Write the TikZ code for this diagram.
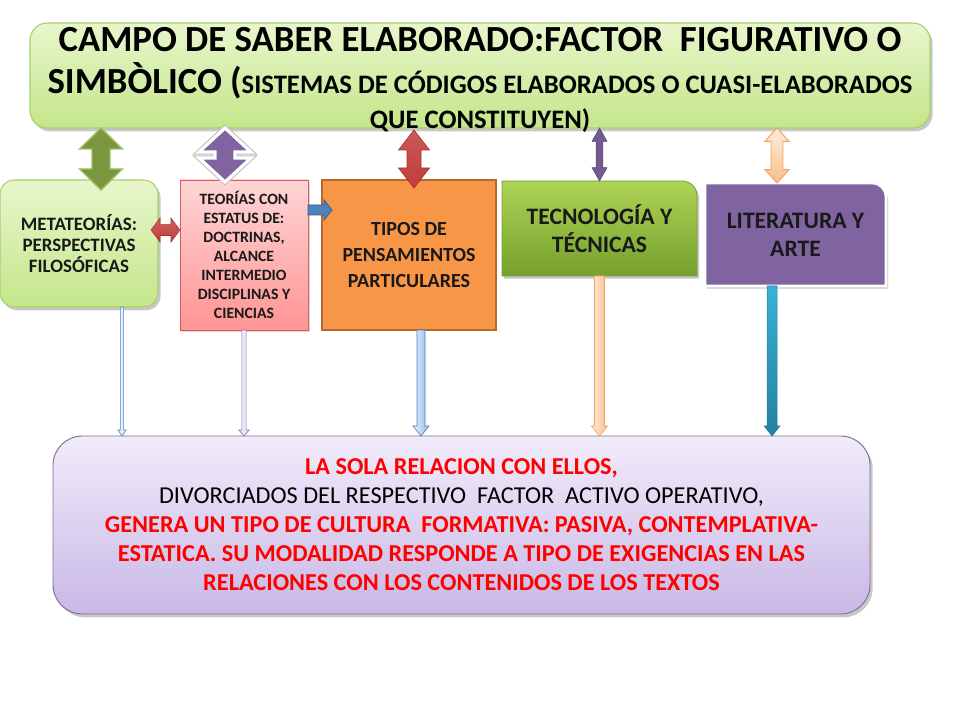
\documentclass[tikz,border=0pt]{standalone}
\usepackage{fontspec}
\setmainfont{Carlito}
\usetikzlibrary{calc,shadows,backgrounds}

\definecolor{topA}{RGB}{232,246,204}
\definecolor{topB}{RGB}{196,230,138}
\definecolor{topC}{RGB}{168,208,108}
\definecolor{teoA}{RGB}{255,214,214}
\definecolor{teoB}{RGB}{255,148,148}
\definecolor{teoC}{RGB}{214,92,92}
\definecolor{tipF}{RGB}{247,150,70}
\definecolor{tipC}{RGB}{182,104,46}
\definecolor{tecA}{RGB}{174,212,86}
\definecolor{tecB}{RGB}{118,160,44}
\definecolor{tecC}{RGB}{122,154,58}
\definecolor{litF}{RGB}{128,100,162}
\definecolor{botA}{RGB}{241,236,250}
\definecolor{botB}{RGB}{200,184,230}
\definecolor{botC}{RGB}{128,110,150}
\definecolor{grnF}{RGB}{122,150,62}
\definecolor{grnC}{RGB}{160,190,95}
\definecolor{purF}{RGB}{128,100,162}
\definecolor{redF}{RGB}{192,60,58}
\definecolor{redC}{RGB}{170,50,50}
\definecolor{bluF}{RGB}{79,129,189}
\definecolor{bluC}{RGB}{56,93,138}
\definecolor{ltbA}{RGB}{230,240,252}
\definecolor{ltbB}{RGB}{150,185,230}
\definecolor{oraA}{RGB}{253,236,222}
\definecolor{oraB}{RGB}{250,190,140}
\definecolor{oraC}{RGB}{247,160,90}
\definecolor{lavA}{RGB}{236,230,248}
\definecolor{lavB}{RGB}{200,186,230}
\definecolor{lavC}{RGB}{140,115,175}
\definecolor{tealA}{RGB}{56,178,214}
\definecolor{tealB}{RGB}{36,128,160}
\definecolor{txtred}{RGB}{255,0,0}
\definecolor{txtdark}{RGB}{25,25,25}

% vertical double arrow: #2 top point, #3 bottom point, #4 shaft half, #5 head half, #6 head length
\newcommand{\vdarrow}[6][]{%
  \path[#1] let \p1=(#2), \p2=(#3) in
    (\x1,\y1) -- (\x1+#5,\y1-#6) -- (\x1+#4,\y1-#6) -- (\x1+#4,\y2+#6) --
    (\x1+#5,\y2+#6) -- (\x1,\y2) -- (\x1-#5,\y2+#6) -- (\x1-#4,\y2+#6) --
    (\x1-#4,\y1-#6) -- (\x1-#5,\y1-#6) -- cycle;}
% vertical single arrow pointing down
\newcommand{\vsarrow}[6][]{%
  \path[#1] let \p1=(#2), \p2=(#3) in
    (\x1-#4,\y1) -- (\x1+#4,\y1) -- (\x1+#4,\y2+#6) -- (\x1+#5,\y2+#6) --
    (\x1,\y2) -- (\x1-#5,\y2+#6) -- (\x1-#4,\y2+#6) -- cycle;}
% horizontal double arrow: #2 left point, #3 right point
\newcommand{\hdarrow}[6][]{%
  \path[#1] let \p1=(#2), \p2=(#3) in
    (\x1,\y1) -- (\x1+#6,\y1+#5) -- (\x1+#6,\y1+#4) -- (\x2-#6,\y1+#4) --
    (\x2-#6,\y1+#5) -- (\x2,\y1) -- (\x2-#6,\y1-#5) -- (\x2-#6,\y1-#4) --
    (\x1+#6,\y1-#4) -- (\x1+#6,\y1-#5) -- cycle;}
% horizontal single arrow pointing right
\newcommand{\hsarrow}[6][]{%
  \path[#1] let \p1=(#2), \p2=(#3) in
    (\x1,\y1+#4) -- (\x2-#6,\y1+#4) -- (\x2-#6,\y1+#5) -- (\x2,\y1) --
    (\x2-#6,\y1-#5) -- (\x2-#6,\y1-#4) -- (\x1,\y1-#4) -- cycle;}

\begin{document}
\begin{tikzpicture}[x=0.75pt,y=-0.75pt,
  box/.style={inner sep=0pt,outer sep=0pt,align=center,anchor=north west},
  myshadow/.style={drop shadow={shadow xshift=2pt,shadow yshift=-2.5pt,opacity=0.3,fill=black!70}},
]
\useasboundingbox (0,0) rectangle (960,720);

% ---- boxes ----
\node[box, minimum width=675pt, minimum height=78.75pt, rounded corners=13pt,
      top color=topA, bottom color=topB, draw=topC, line width=0.8pt, myshadow] (top) at (30,23) {};
\node[inner sep=0pt, align=center, text=black,
      font=\bfseries\fontsize{27.6}{31.5}\selectfont] (toptext) at ([yshift=-3.5pt]top.center)
  {CAMPO DE SABER ELABORADO:FACTOR\ \ FIGURATIVO O\\
   SIMBÒLICO ({\fontsize{20}{24}\selectfont SISTEMAS DE CÓDIGOS ELABORADOS O CUASI-ELABORADOS}\\[-5.5pt]
   {\fontsize{20}{24}\selectfont QUE CONSTITUYEN)}};

\node[box, minimum width=118.5pt, minimum height=95.25pt, rounded corners=11pt,
      top color=topA, bottom color=topB, draw=topC, line width=0.8pt, myshadow, text=txtdark,
      font=\bfseries\fontsize{14.2}{16}\selectfont] (meta) at (0,180)
  {METATEORÍAS:\\PERSPECTIVAS\\FILOSÓFICAS};

\node[box, minimum width=96pt, minimum height=112.5pt,
      top color=teoA, bottom color=teoB, draw=teoC, line width=0.6pt,
      drop shadow={shadow xshift=1.5pt,shadow yshift=-1.5pt,opacity=0.2,fill=black!70}, text=txtdark,
      font=\bfseries\fontsize{11.8}{14.3}\selectfont] (teo) at (180,180)
  {TEORÍAS CON\\ESTATUS DE:\\DOCTRINAS,\\ALCANCE\\INTERMEDIO\\DISCIPLINAS Y\\CIENCIAS};

\node[box, minimum width=130.5pt, minimum height=112.5pt,
      fill=tipF, draw=tipC, line width=1.5pt, text=txtdark,
      font=\bfseries\fontsize{15}{19.5}\selectfont] (tipos) at (322,180)
  {TIPOS DE\\PENSAMIENTOS\\PARTICULARES};

\node[box, minimum width=146.25pt, minimum height=71.25pt, text=txtdark,
      font=\bfseries\fontsize{17.7}{21}\selectfont] (tec) at (502,181)
  {TECNOLOGÍA Y\\TÉCNICAS};

\node[box, minimum width=135.75pt, minimum height=77.25pt, text=txtdark,
      font=\bfseries\fontsize{17.7}{21}\selectfont] (lit) at (705,183)
  {LITERATURA Y\\ARTE};

\node[box, minimum width=612.75pt, minimum height=133.5pt, rounded corners=22pt,
      top color=botA, bottom color=botB, draw=botC, line width=0.7pt, myshadow,
      font=\fontsize{18.2}{21.75}\selectfont] (bot) at (53,436)
  {{\bfseries\color{txtred}LA SOLA RELACION CON ELLOS,}\\
   DIVORCIADOS DEL RESPECTIVO\ \ FACTOR\ \ ACTIVO OPERATIVO,\\
   {\bfseries\color{txtred}GENERA UN TIPO DE CULTURA\ \ FORMATIVA: PASIVA, CONTEMPLATIVA-}\\
   {\bfseries\color{txtred}ESTATICA. SU MODALIDAD RESPONDE A TIPO DE EXIGENCIAS EN LAS}\\
   {\bfseries\color{txtred}RELACIONES CON LOS CONTENIDOS DE LOS TEXTOS}};

% backgrounds of the boxes with one rounded corner
\begin{scope}[on background layer]
\fill[white] (0,0) rectangle (960,720);
\path[top color=tecA, bottom color=tecB, draw=tecC, line width=0.6pt,
      drop shadow={shadow xshift=1.5pt,shadow yshift=-2pt,opacity=0.3,fill=black!70}]
  (tec.south west) -- (tec.north west) -- ([xshift=-11pt]tec.north east)
  .. controls ([xshift=-5pt]tec.north east) and ([yshift=-5pt]tec.north east) ..
  ([yshift=-11pt]tec.north east) -- (tec.south east) -- cycle;
\path[fill=litF, draw=white, line width=2.2pt,
      drop shadow={shadow xshift=1.5pt,shadow yshift=-2pt,opacity=0.3,fill=black!70}]
  (lit.south west) -- (lit.north west) -- ([xshift=-10pt]lit.north east)
  .. controls ([xshift=-4.5pt]lit.north east) and ([yshift=-4.5pt]lit.north east) ..
  ([yshift=-10pt]lit.north east) -- (lit.south east) -- cycle;
\end{scope}

% ---- connectors from the title box ----
\vdarrow[fill=grnF, draw=grnC, line width=1pt]
  {[xshift=16.5pt]meta.north |- top.south}{[xshift=16.5pt,yshift=-7.5pt]meta.north}{6.75pt}{16pt}{15.75pt}
\vdarrow[draw=black!25, line width=4pt, line join=miter]
  {[xshift=-14.25pt]teo.north |- top.south}{[xshift=-14.25pt,yshift=-1.5pt]teo.north}{7.5pt}{19.5pt}{18pt}
\vdarrow[fill=purF, draw=white, line width=2.4pt, line join=miter]
  {[xshift=-14.25pt]teo.north |- top.south}{[xshift=-14.25pt,yshift=-1.5pt]teo.north}{7.5pt}{19.5pt}{18pt}
\vdarrow[top color=redF!85!white, bottom color=redF, draw=redC, line width=0.5pt]
  {[xshift=3.75pt,yshift=-1.5pt]tipos.north |- top.south}{[xshift=3.75pt,yshift=-6pt]tipos.north}{5.25pt}{11.6pt}{15pt}
\vdarrow[fill=purF!90!black, draw=purF!70!black, line width=0.4pt]
  {tec.north |- top.south}{tec.north}{2.6pt}{5.6pt}{10pt}
\vdarrow[top color=oraA, bottom color=oraB, draw=oraC, line width=0.7pt]
  {[xshift=-13.9pt]lit.north |- top.south}{[xshift=-13.9pt]lit.north}{4.5pt}{9pt}{10pt}

% ---- horizontal connectors ----
\hdarrow[top color=redF!80!white, bottom color=redF, draw=redC, line width=0.4pt]
  {[xshift=-5.25pt,yshift=10.1pt]meta.east}{[yshift=10.1pt]meta.east -| teo.west}{4.1pt}{9pt}{6.75pt}
\hsarrow[fill=bluF, draw=bluC, line width=0.6pt]
  {[yshift=33.75pt]teo.east}{[xshift=7.5pt,yshift=33.75pt]teo.east -| tipos.west}{3.75pt}{7.5pt}{6pt}

% ---- connectors down to the bottom box ----
\vsarrow[fill=ltbA, draw=bluF, line width=0.5pt]
  {[xshift=32.25pt]meta.south}{[xshift=32.25pt]meta.south |- bot.north}{1.2pt}{3pt}{4.5pt}
\vsarrow[fill=lavA, draw=lavC, line width=0.5pt]
  {teo.south}{teo.south |- bot.north}{1.6pt}{3.8pt}{4.5pt}
\vsarrow[left color=ltbA, right color=ltbB, draw=bluF, line width=0.5pt]
  {[xshift=9pt]tipos.south}{[xshift=9pt]tipos.south |- bot.north}{3pt}{6pt}{7.5pt}
\vsarrow[left color=oraA, right color=oraB, draw=oraC, line width=0.5pt]
  {tec.south}{tec.south |- bot.north}{3.75pt}{6pt}{7.5pt}
\vsarrow[top color=tealA, bottom color=tealB, draw=tealB, line width=0.4pt]
  {[xshift=-17.6pt]lit.south}{[xshift=-17.6pt]lit.south |- bot.north}{3.75pt}{6pt}{7.5pt}
\end{tikzpicture}
\end{document}
